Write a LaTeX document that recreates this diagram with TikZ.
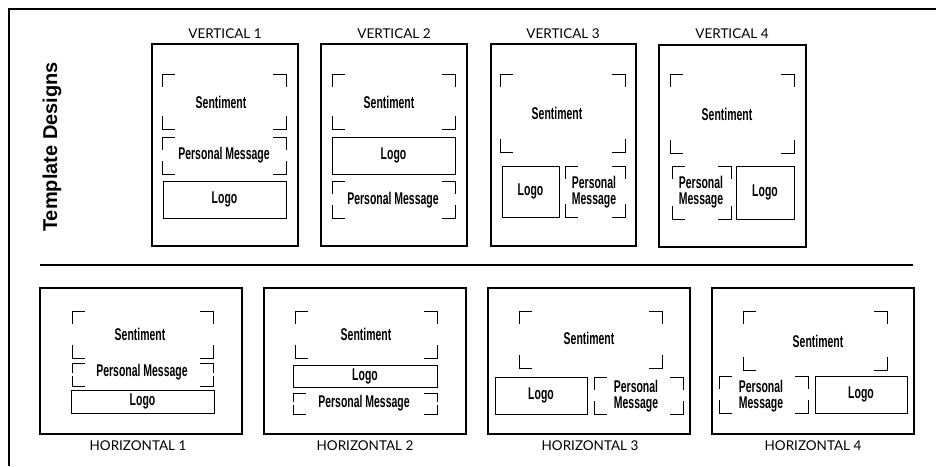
\documentclass[tikz,border=0pt]{standalone}
\usepackage{fontspec}
\setmainfont{Liberation Sans}
\newfontfamily\condfont[FakeStretch=0.615]{Liberation Sans}
\newfontfamily\labfont{Lato}
\newfontfamily\titfont{Liberation Sans}
\tikzset{
  frameline/.style={line width=1.5pt},
  tplbox/.style={draw, line width=1.3pt, rectangle, inner sep=0pt},
  innerbox/.style={draw, line width=0.8pt, rectangle, inner sep=0pt},
  cornerline/.style={line width=0.8pt},
  slot/.style={font=\condfont\bfseries\fontsize{17}{15.5}\selectfont, align=center, inner sep=0pt},
  tlabel/.style={font=\labfont\fontsize{13.5}{15}\selectfont, inner sep=0pt},
}
% box node between two pixel corners
\newcommand\boxat[6]{% name, x1,y1,x2,y2, style
  \node[#6, minimum width={(#4-#2)*1pt}, minimum height={(#5-#3)*1pt}] (#1) at ({(#2+#4)/2},{(#3+#5)/2}) {};}
\newcommand\crn[4]{% x1 y1 x2 y2 : corner brackets
  \pgfmathsetmacro\va{min(13,0.45*(#4-#2))}
  \draw[cornerline] (#1,#2+\va) -- (#1,#2) -- (#1+13,#2);
  \draw[cornerline] (#3-13,#2) -- (#3,#2) -- (#3,#2+\va);
  \draw[cornerline] (#1,#4-\va) -- (#1,#4) -- (#1+13,#4);
  \draw[cornerline] (#3-13,#4) -- (#3,#4) -- (#3,#4-\va);}
\begin{document}
\begin{tikzpicture}[x=1pt,y=-1pt]
\useasboundingbox (0,0) rectangle (936,466);
% frame
\coordinate (fr0) at (9,466);
\coordinate (fr1) at (9,9);
\coordinate (fr2) at (936,9);
\draw[frameline] (fr0) -- (fr1) -- (fr2);
\node[font=\titfont\bfseries\fontsize{20}{22}\selectfont, rotate=90, inner sep=0pt] (title) at (52,147) {Template Designs};
% separator
\coordinate (s0) at (40,265);
\coordinate (s1) at (913,265);
\draw[line width=1.3pt] (s0) -- (s1);

% ---------- VERTICAL 1
\boxat{v1}{152}{44}{298}{246}{tplbox}
\node[tlabel] (v1l) at (225,34) {VERTICAL 1};
\crn{162}{74}{286}{129}
\node[slot] (v1s) at (221,102) {Sentiment};
\crn{162}{137}{286}{174}
\node[slot] (v1p) at (224,155) {Personal Message};
\boxat{v1g}{163}{181}{286}{218}{innerbox}
\node[slot] (v1gt) at (v1g) {Logo};

% ---------- VERTICAL 2
\boxat{v2}{321}{44}{467}{246}{tplbox}
\node[tlabel] (v2l) at (394,34) {VERTICAL 2};
\crn{332}{74}{455}{129}
\node[slot] (v2s) at (389,102) {Sentiment};
\boxat{v2g}{332}{137}{455}{174}{innerbox}
\node[slot] (v2gt) at (v2g) {Logo};
\crn{332}{181}{455}{218}
\node[slot] (v2p) at (393,200) {Personal Message};

% ---------- VERTICAL 3
\boxat{v3}{491}{44}{636}{246}{tplbox}
\node[tlabel] (v3l) at (563,34) {VERTICAL 3};
\crn{500}{74}{625}{152}
\node[slot] (v3s) at (557,113) {Sentiment};
\boxat{v3g}{502}{166}{559}{217}{innerbox}
\node[slot] (v3gt) at (v3g) {Logo};
\crn{565}{166}{625}{217}
\node[slot] (v3p) at (594,192) {Personal\\Message};

% ---------- VERTICAL 4
\boxat{v4}{659}{45}{806}{247}{tplbox}
\node[tlabel] (v4l) at (732,34) {VERTICAL 4};
\crn{670}{74}{794}{153}
\node[slot] (v4s) at (727,114) {Sentiment};
\crn{672}{166}{731}{219}
\node[slot] (v4p) at (701,192) {Personal\\Message};
\boxat{v4g}{736}{166}{794}{219}{innerbox}
\node[slot] (v4gt) at (v4g) {Logo};

% ---------- HORIZONTAL 1
\boxat{h1}{40}{288}{242}{434}{tplbox}
\node[tlabel] (h1l) at (138,446) {HORIZONTAL 1};
\crn{72}{311}{213}{358}
\node[slot] (h1s) at (140,334) {Sentiment};
\crn{72}{363}{213}{386}
\node[slot] (h1p) at (142,372) {Personal Message};
\boxat{h1g}{71}{390}{214}{413}{innerbox}
\node[slot] (h1gt) at (h1g) {Logo};

% ---------- HORIZONTAL 2
\boxat{h2}{264}{288}{466}{434}{tplbox}
\node[tlabel] (h2l) at (365,446) {HORIZONTAL 2};
\crn{295}{311}{437}{358}
\node[slot] (h2s) at (366,334) {Sentiment};
\boxat{h2g}{293}{365}{437}{387}{innerbox}
\node[slot] (h2gt) at (h2g) {Logo};
\crn{293}{393}{437}{414}
\node[slot] (h2p) at (364,403) {Personal Message};

% ---------- HORIZONTAL 3
\boxat{h3}{488}{288}{690}{434}{tplbox}
\node[tlabel] (h3l) at (590,446) {HORIZONTAL 3};
\crn{519}{311}{662}{368}
\node[slot] (h3s) at (589,338) {Sentiment};
\boxat{h3g}{495}{377}{587}{414}{innerbox}
\node[slot] (h3gt) at (h3g) {Logo};
\crn{594}{377}{683}{414}
\node[slot] (h3p) at (636,396) {Personal\\Message};

% ---------- HORIZONTAL 4
\boxat{h4}{712}{288}{914}{434}{tplbox}
\node[tlabel] (h4l) at (813,446) {HORIZONTAL 4};
\crn{743}{311}{887}{370}
\node[slot] (h4s) at (818,341) {Sentiment};
\crn{719}{376}{808}{413}
\node[slot] (h4p) at (761,396) {Personal\\Message};
\boxat{h4g}{815}{376}{907}{413}{innerbox}
\node[slot] (h4gt) at (h4g) {Logo};
\end{tikzpicture}
\end{document}
